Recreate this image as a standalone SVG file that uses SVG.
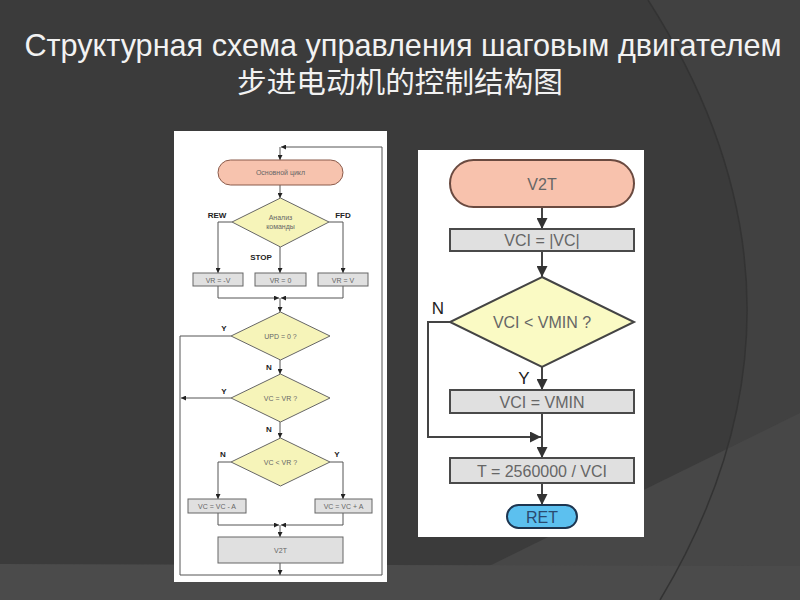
<svg xmlns="http://www.w3.org/2000/svg" width="800" height="600" viewBox="0 0 800 600">
<style>
.title{font-family:"Liberation Sans","Noto Sans CJK SC",sans-serif;fill:#f2f2f2}
.s{font-family:"Liberation Sans",sans-serif;font-size:7px;fill:#666;text-anchor:middle}
.lb{font-family:"Liberation Sans",sans-serif;font-size:8px;font-weight:bold;fill:#222;text-anchor:middle}
.r{font-family:"Liberation Sans",sans-serif;font-size:16px;fill:#666;text-anchor:middle}
.rl{font-family:"Liberation Sans",sans-serif;font-size:17px;fill:#222;text-anchor:middle}
.ln{fill:none;stroke:#555;stroke-width:1}
.lnR{fill:none;stroke:#444;stroke-width:2}
.dia{fill:#f6f4b9;stroke:#666;stroke-width:1}
.box{fill:#e0e0e0;stroke:#666;stroke-width:1}
.diaR{fill:#fafac4;stroke:#444;stroke-width:2}
.boxR{fill:#e0e0e0;stroke:#4a4a4a;stroke-width:2}
</style>
<defs>
<marker id="a" viewBox="0 0 10 10" refX="10" refY="5" markerWidth="6" markerHeight="5" markerUnits="userSpaceOnUse" orient="auto"><path d="M0 0L10 5L0 10Z" fill="#222"/></marker>
<marker id="b" viewBox="0 0 10 10" refX="10" refY="5" markerWidth="13" markerHeight="11" markerUnits="userSpaceOnUse" orient="auto"><path d="M0 0L10 5L0 10Z" fill="#333"/></marker>
</defs>
<rect width="800" height="600" fill="#3b3b3b"/>
<path d="M648 0 Q 840 300 660 600 L800 600 L800 0Z" fill="#414141"/>
<path d="M420 600 L800 413 L800 600Z" fill="#474747"/>
<path d="M0 564 L800 566 L800 600 L0 600Z" fill="#4b4b4b"/>
<path d="M648 0 Q 840 300 660 600" fill="none" stroke="#333" stroke-width="1.5"/>
<text class="title" transform="translate(403 56) scale(0.92 1)" x="0" y="0" font-size="32" text-anchor="middle" textLength="823" lengthAdjust="spacingAndGlyphs">Структурная схема управления  шаговым двигателем</text>
<text class="title" x="400" y="93" font-size="29" text-anchor="middle" textLength="326" lengthAdjust="spacingAndGlyphs">步进电动机的控制结构图</text>

<rect x="174" y="131" width="213" height="451" fill="#fff"/>
<rect x="418" y="150" width="226" height="387" fill="#fff"/>

<g id="left-connectors">
<path class="ln" d="M231 336 L180 336 L180 575 L382 575 L382 147 L281 147" marker-end="url(#a)"/>
<path class="ln" d="M280 147 L280 160" marker-end="url(#a)"/>
<path class="ln" d="M280 185 L280 198" marker-end="url(#a)"/>
<path class="ln" d="M232 222 L218 222 L218 273" marker-end="url(#a)"/>
<path class="ln" d="M329 222 L343 222 L343 273" marker-end="url(#a)"/>
<path class="ln" d="M280 247 L280 273" marker-end="url(#a)"/>
<path class="ln" d="M218 286 L218 298 L279 298" marker-end="url(#a)"/>
<path class="ln" d="M343 286 L343 298 L281 298" marker-end="url(#a)"/>
<path class="ln" d="M280 298 L280 312" marker-end="url(#a)"/>
<path class="ln" d="M280 360 L280 374" marker-end="url(#a)"/>
<path class="ln" d="M231 398 L181 398" marker-end="url(#a)"/>
<path class="ln" d="M280 422 L280 438" marker-end="url(#a)"/>
<path class="ln" d="M231 462 L218 462 L218 499" marker-end="url(#a)"/>
<path class="ln" d="M330 462 L343 462 L343 499" marker-end="url(#a)"/>
<path class="ln" d="M218 513 L218 525 L279 525" marker-end="url(#a)"/>
<path class="ln" d="M343 513 L343 525 L281 525" marker-end="url(#a)"/>
<path class="ln" d="M280 525 L280 537" marker-end="url(#a)"/>
<path class="ln" d="M280 563 L280 575" marker-end="url(#a)"/>
</g>
<g id="left-labels">
<text class="lb" x="217" y="218">REW</text>
<text class="lb" x="343" y="218">FFD</text>
<text class="lb" x="261" y="260">STOP</text>
<text class="lb" x="224" y="331">Y</text>
<text class="lb" x="269" y="370">N</text>
<text class="lb" x="224" y="394">Y</text>
<text class="lb" x="269" y="432">N</text>
<text class="lb" x="223" y="457">N</text>
<text class="lb" x="337" y="457">Y</text>
</g>
<g id="l-start"><rect x="218" y="160" width="125" height="25" rx="12.5" fill="#f7c3ae" stroke="#8a5a4a"/><text class="s" x="280.5" y="175">Основной цикл</text></g>
<g id="l-analyze"><path class="dia" d="M280.5 198 L329 222 L280.5 247 L232 222Z"/><text class="s" x="280.5" y="220">Анализ</text><text class="s" x="280.5" y="229">команды</text></g>
<g id="l-vrm"><rect class="box" x="193" y="273" width="50" height="13"/><text class="s" x="218" y="282.5">VR = -V</text></g>
<g id="l-vr0"><rect class="box" x="255" y="273" width="51" height="13"/><text class="s" x="280.5" y="282.5">VR = 0</text></g>
<g id="l-vrp"><rect class="box" x="318" y="273" width="50" height="13"/><text class="s" x="343" y="282.5">VR = V</text></g>
<g id="l-upd"><path class="dia" d="M280.5 312 L330 336 L280.5 360 L231 336Z"/><text class="s" x="280.5" y="338.5">UPD = 0 ?</text></g>
<g id="l-vceq"><path class="dia" d="M280.5 374 L330 398 L280.5 422 L231 398Z"/><text class="s" x="280.5" y="400.5">VC = VR ?</text></g>
<g id="l-vclt"><path class="dia" d="M280.5 438 L330 462 L280.5 486 L231 462Z"/><text class="s" x="280.5" y="464.5">VC &lt; VR ?</text></g>
<g id="l-dec"><rect class="box" x="188" y="499" width="58" height="14"/><text class="s" x="217" y="508.5">VC = VC - A</text></g>
<g id="l-inc"><rect class="box" x="315" y="499" width="57" height="14"/><text class="s" x="343.5" y="508.5">VC = VC + A</text></g>
<g id="l-v2t"><rect class="box" x="218" y="537" width="125" height="26"/><text class="s" x="280.5" y="552.5">V2T</text></g>

<g id="right-connectors">
<path class="lnR" d="M542 207 L542 229" marker-end="url(#b)"/>
<path class="lnR" d="M542 251 L542 277" marker-end="url(#b)"/>
<path class="lnR" d="M542 367 L542 390" marker-end="url(#b)"/>
<path class="lnR" d="M450 322 L428 322 L428 437 L541 437" marker-end="url(#b)"/>
<path class="lnR" d="M542 413 L542 458" marker-end="url(#b)"/>
<path class="lnR" d="M542 483 L542 505" marker-end="url(#b)"/>
<text class="rl" x="438" y="314">N</text>
<text class="rl" x="524" y="384">Y</text>
</g>
<g id="r-v2t"><rect x="450" y="160" width="184" height="47" rx="23.5" fill="#f8c2ad" stroke="#6a4a40" stroke-width="2"/><text class="r" x="542" y="190" font-size="17">V2T</text></g>
<g id="r-abs"><rect class="boxR" x="450" y="229" width="184" height="22"/><text class="r" x="542" y="246">VCI = |VC|</text></g>
<g id="r-cmp"><path class="diaR" d="M542 277 L634 322 L542 367 L450 322Z"/><text class="r" x="542" y="328">VCI &lt; VMIN ?</text></g>
<g id="r-min"><rect class="boxR" x="450" y="390" width="184" height="23"/><text class="r" x="542" y="407.5">VCI = VMIN</text></g>
<g id="r-t"><rect class="boxR" x="450" y="458" width="184" height="25"/><text class="r" x="542" y="476.5">T = 2560000 / VCI</text></g>
<g id="r-ret"><rect x="507" y="505" width="70" height="23" rx="11.5" fill="#5cc0ef" stroke="#1d3550" stroke-width="2"/><text class="r" x="542" y="522.5" style="fill:#2a4a70">RET</text></g>
</svg>
